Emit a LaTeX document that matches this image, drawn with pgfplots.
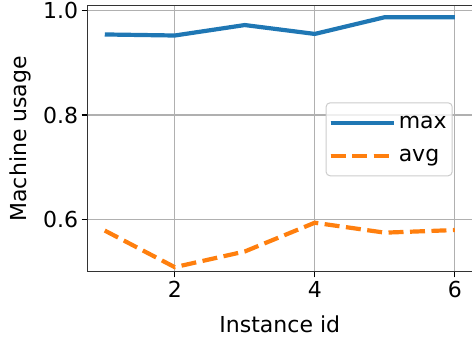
\documentclass[border=0pt]{standalone}
\usepackage{pgfplots}
\pgfplotsset{compat=1.18}
\usepackage{fontspec}
\setmainfont{DejaVu Sans}
\definecolor{mplblue}{HTML}{1F77B4}
\definecolor{mplorange}{HTML}{FF7F0E}
\begin{document}
\begin{tikzpicture}
\begin{axis}[
  scale only axis,
  width=385.2pt, height=266.3pt,
  xmin=0.75, xmax=6.25,
  ymin=0.5, ymax=1.009,
  xtick={2,4,6},
  ytick={0.6,0.8,1.0},
  yticklabel style={/pgf/number format/.cd, fixed, fixed zerofill, precision=1},
  /pgf/number format/assume math mode=true,
  tick label style={font=\fontsize{22}{26}\selectfont, text=black},
  grid=major,
  major grid style={color=black!31, line width=1.1pt},
  axis line style={line width=1.2pt, color=black!80},
  tick style={line width=1.2pt, color=black},
  major tick length=5.6pt,
  tick align=outside,
  xtick pos=bottom, ytick pos=left,
  every axis x label/.style={at={(rel axis cs:0.5,0)}, anchor=base, yshift=-60.4pt, font=\fontsize{22}{26}\selectfont},
  every axis y label/.style={at={(rel axis cs:0,0.5)}, anchor=base, xshift=-60.6pt, rotate=90, font=\fontsize{22}{26}\selectfont},
  xlabel={Instance id},
  ylabel={Machine usage},
  legend style={at={(rel axis cs:0.619,0.637)}, anchor=north west,
    draw=black!20, line width=1pt, rounded corners=4pt, fill=white, fill opacity=0.8, text opacity=1,
    font=\fontsize{22}{26}\selectfont, inner xsep=2.5pt, inner ysep=6.5pt,
    nodes={inner sep=3pt, text height=16pt, text depth=5pt},
    row sep=6pt},
  legend cell align=left,
  legend image code/.code={\path (0pt,0pt) -- (63pt,0pt); \draw[#1] (0pt,0pt) -- (52pt,0pt);},
]
\addplot[mplblue, line width=4.2pt] coordinates {
  (1,0.954) (2,0.952) (3,0.972) (4,0.955) (5,0.987) (6,0.987)
};
\addlegendentry{max\hspace{9pt}}
\addplot[mplorange, line width=4.2pt, dash pattern=on 15pt off 6.5pt] coordinates {
  (1,0.579) (2,0.509) (3,0.539) (4,0.594) (5,0.575) (6,0.580)
};
\addlegendentry{avg}
\end{axis}
\pgfresetboundingbox
\path ([shift={(-87.3pt,-70.7pt)}]current axis.south west) rectangle ([shift={(-0.3pt,5.7pt)}]current axis.north east);
\end{tikzpicture}
\end{document}
